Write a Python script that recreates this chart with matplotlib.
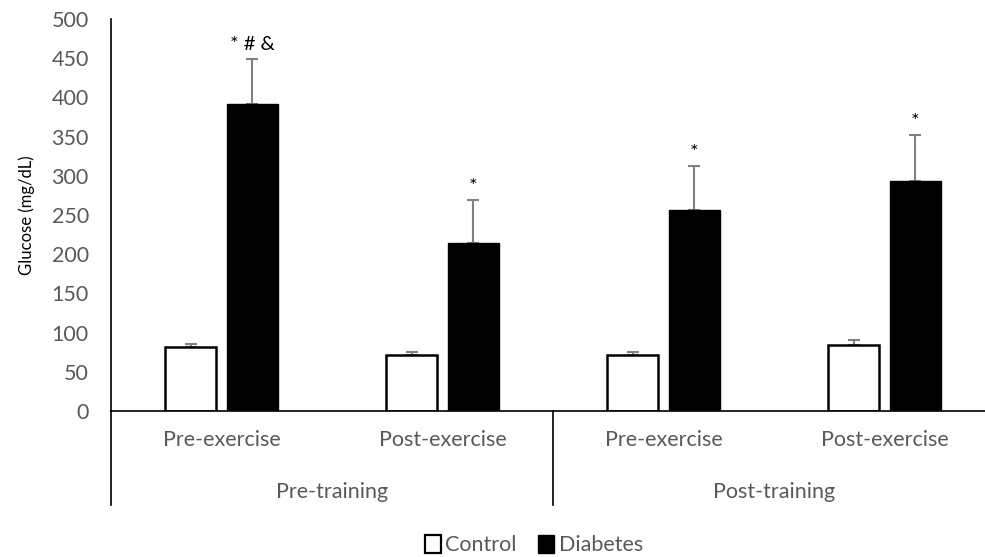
import numpy as np
import matplotlib.pyplot as plt
from matplotlib.patches import Patch

### Data
phases = ["Pre-exercise", "Post-exercise", "Pre-exercise", "Post-exercise"]
periods = ["Pre-training", "Post-training"]
control_mean = [81, 71, 71, 84]
control_err = [5, 4, 4, 7]
diabetes_mean = [392, 214, 257, 294]
diabetes_err = [57, 55, 55, 58]
diabetes_marks = ["* # &", "*", "*", "*"]

### Style
plt.rcParams['font.family'] = ['Lato', 'DejaVu Sans']
tick_grey = "#595959"
err_grey = "#808080"
fs = 15.5

fig = plt.figure(figsize=(9.85, 5.57), dpi=100)
W, H = 985, 557
ax = fig.add_axes([111 / W, (H - 411) / H, (995 - 111) / W, (411 - 19) / H])

x = np.arange(len(phases))
off = 0.14
width = 0.23

ax.bar(x - off, control_mean, width, color="white", edgecolor="black",
       linewidth=1.8, zorder=2)
ax.bar(x + off, diabetes_mean, width, color="black", edgecolor="black",
       linewidth=1.0, zorder=2)

ax.errorbar(x - off, control_mean, yerr=[np.zeros(4), control_err], fmt="none",
            ecolor=err_grey, elinewidth=1.5, capsize=4.5, capthick=1.5, zorder=1)
ax.errorbar(x + off, diabetes_mean, yerr=[np.zeros(4), diabetes_err], fmt="none",
            ecolor=err_grey, elinewidth=1.5, capsize=4.5, capthick=1.5, zorder=1)

for xi, m, e, s in zip(x + off, diabetes_mean, diabetes_err, diabetes_marks):
    ax.text(xi, m + e + 7, s, ha="center", va="bottom", fontsize=14.5, color="black")

ax.set_xlim(-0.5, 3.5)
ax.set_ylim(0, 500)
ax.set_yticks(range(0, 501, 50))
ax.tick_params(axis="y", length=0, pad=16, labelsize=fs, labelcolor=tick_grey)
ax.set_xticks([])
for side in ["top", "right"]:
    ax.spines[side].set_visible(False)
ax.spines["left"].set_linewidth(1.2)
ax.spines["bottom"].set_linewidth(1.2)
ax.set_ylabel("Glucose (mg/dL)", fontsize=12, labelpad=12)

# two-level category axis below the bars
trans = ax.get_xaxis_transform()
low = -(505 - 411) / (411 - 19)
for xv in [-0.5, 1.5, 3.5]:
    ax.plot([xv, xv], [0, low], color="black", lw=1.2, transform=trans, clip_on=False)
for xi, lab in zip(x, phases):
    ax.text(xi, -(440 - 411) / (411 - 19), lab, transform=trans, ha="center",
            va="center", fontsize=fs, color=tick_grey)
for xi, lab in zip([0.5, 2.5], periods):
    ax.text(xi, -(492 - 411) / (411 - 19), lab, transform=trans, ha="center",
            va="center", fontsize=fs, color=tick_grey)

handles = [Patch(facecolor="white", edgecolor="black", linewidth=1.6, label="Control"),
           Patch(facecolor="black", edgecolor="black", label="Diabetes")]
fig.legend(handles=handles, loc="center", bbox_to_anchor=(534 / W, 1 - 545 / H),
           ncol=2, frameon=False, fontsize=fs, handlelength=0.75, handleheight=0.9,
           handletextpad=0.2, columnspacing=1.0, labelcolor=tick_grey)

fig.savefig("out.png", dpi=100)
